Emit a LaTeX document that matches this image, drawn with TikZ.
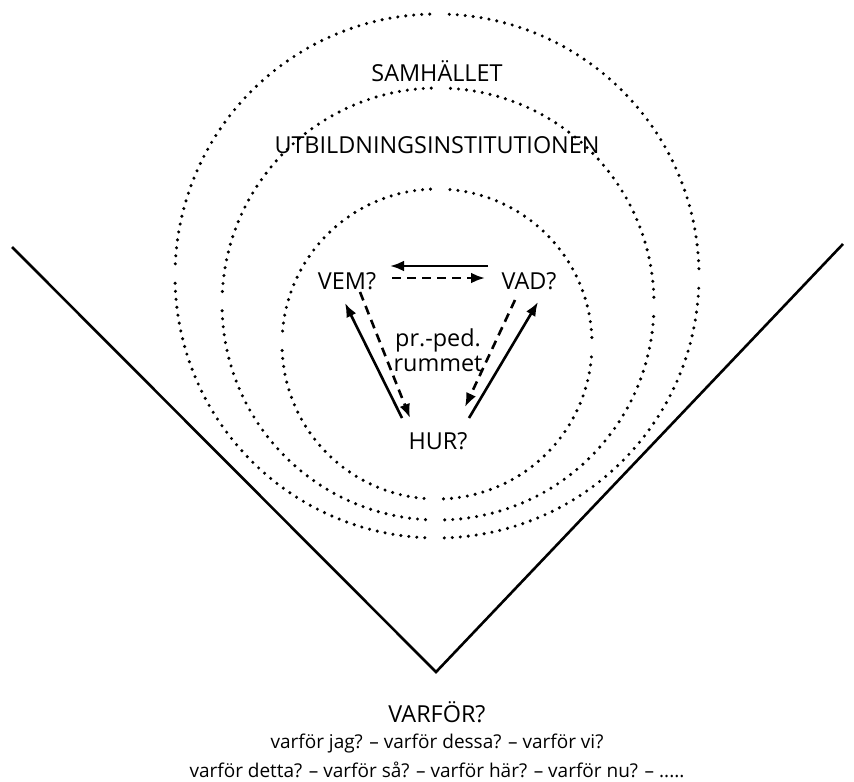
\documentclass[tikz,border=0pt]{standalone}
\usepackage{fontspec}
\setmainfont{Open Sans}
\usetikzlibrary{arrows.meta}

\begin{document}
\begin{tikzpicture}[x=0.5pt, y=-0.5pt, >={Latex[length=7pt,width=5.4pt]}]
  \tikzstyle{ringLine} = [line width=1.7pt, line cap=round, dash pattern=on 0pt off 4pt];
  \tikzstyle{vLine} = [line width=1.3pt];
  \tikzstyle{question} = [font={\fontsize{11.7}{12.5}\selectfont}, inner sep=0pt, align=center];
  \tikzstyle{whyLine} = [font={\fontsize{9.5}{11}\selectfont}, inner sep=0pt];
  \tikzstyle{arrowEdge} = [line width=1.3pt, ->];
  \tikzstyle{arrowDashed} = [arrowEdge, dash pattern=on 4.5pt off 3pt];

  \useasboundingbox (0,0) rectangle (854,781);

  % the three rooms, each drawn as four quarter arcs
  \coordinate (outerC) at (437,276);
  \coordinate (midC)   at (438,304);
  \coordinate (innerC) at (437,344);
  \foreach \a in {0,90,180,270} {
    \draw[ringLine] (outerC) ++(\a+1.6:131pt) arc[start angle=\a+1.6, end angle=\a+88.4, radius=131pt];
    \draw[ringLine] (midC)   ++(\a+1.8:108pt) arc[start angle=\a+1.8, end angle=\a+88.2, radius=108pt];
    \draw[ringLine] (innerC) ++(\a+2.4:77.5pt) arc[start angle=\a+2.4, end angle=\a+87.6, radius=77.5pt];
  }

  % the V
  \coordinate (vLeft)  at (12,247);
  \coordinate (vTip)   at (436,672);
  \coordinate (vRight) at (843,244);
  \draw[vLine] (vLeft) -- (vTip) -- (vRight);

  \node[question] (samh) at (437,71)  {SAMHÄLLET};
  \node[question] (utb)  at (437,145) {UTBILDNINGSINSTITUTIONEN};
  \node[question] (vem)  at (347,281) {VEM?};
  \node[question] (vad)  at (529,281) {VAD?};
  \node[question] (hur)  at (438,441) {HUR?};
  \node[question] (rum)  at (438,350) {pr.-ped.\\rummet};

  \node[question] (varfor) at (437,712) {VARFÖR?};
  \node[whyLine]  (why1)   at (437,743) {varför jag? – varför dessa? – varför vi?};
  \node[whyLine]  (why2)   at (437,770) {varför detta? – varför så? – varför här? – varför nu? – .....};

  % arrows between the questions
  \draw[arrowEdge]   ([shift={(-41,-15)}]vad.center) -- ([shift={(43,-15)}]vem.center);
  \draw[arrowDashed] ([shift={(45,-3)}]vem.center)   -- ([shift={(-44,-3)}]vad.center);
  \draw[arrowEdge]   ([shift={(-36,-23)}]hur.center) -- ([shift={(-2,22)}]vem.center);
  \draw[arrowDashed] ([shift={(13,11)}]vem.center)   -- ([shift={(-28,-23)}]hur.center);
  \draw[arrowDashed] ([shift={(-14,19)}]vad.center)  -- ([shift={(27,-34)}]hur.center);
  \draw[arrowEdge]   ([shift={(31,-23)}]hur.center)  -- ([shift={(9,21)}]vad.center);
\end{tikzpicture}
\end{document}
